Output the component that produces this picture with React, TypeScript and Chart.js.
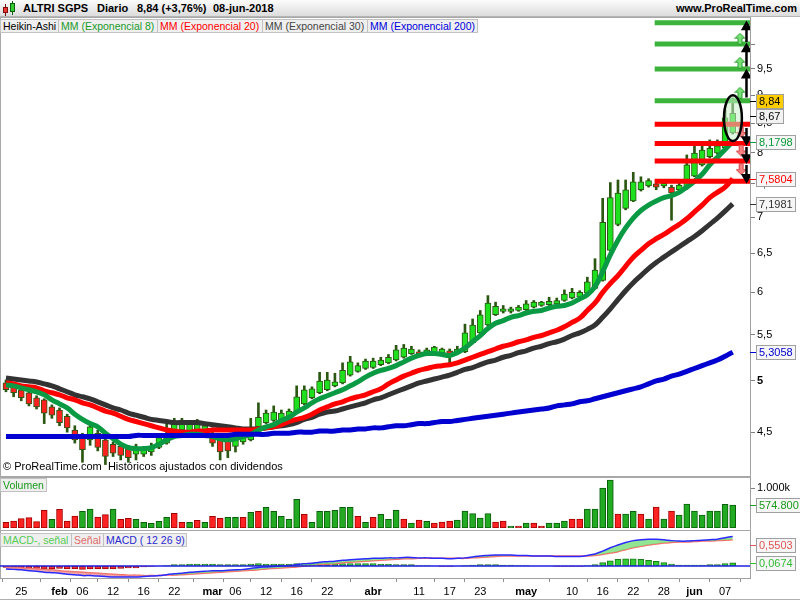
import React, { useEffect, useRef } from 'react';
import { Chart, registerables } from 'chart.js';

Chart.register(...registerables);

const FONT = '"Liberation Sans", Arial, Helvetica, sans-serif';

// ---------- Heikin-Ashi candles (23-jan-2018 .. 08-jun-2018, 96 sessions) ----------
const haOpen = [4.98,4.94,4.91,4.88,4.83,4.81,4.74,4.71,4.65,4.52,
  4.46,4.43,4.49,4.43,4.39,4.37,4.35,4.30,4.30,4.32,
  4.36,4.40,4.50,4.52,4.50,4.52,4.50,4.49,4.43,4.42,
  4.37,4.41,4.43,4.55,4.59,4.61,4.61,4.64,4.69,4.77,
  4.83,4.88,4.91,4.95,4.98,5.06,5.10,5.13,5.14,5.17,
  5.19,5.22,5.25,5.29,5.31,5.29,5.30,5.30,5.32,5.30,
  5.31,5.41,5.52,5.61,5.73,5.77,5.77,5.78,5.79,5.82,
  5.84,5.85,5.86,5.90,5.93,5.94,5.99,6.05,6.15,6.54,
  6.90,7.13,7.24,7.41,7.47,7.50,7.47,7.45,7.41,7.44,
  7.62,7.80,7.93,7.99,8.08,8.33];
const haHigh = [5.01,4.96,4.93,4.90,4.85,4.82,4.76,4.73,4.67,4.56,
  4.49,4.58,4.52,4.46,4.41,4.40,4.38,4.39,4.37,4.40,
  4.47,4.58,4.63,4.63,4.61,4.62,4.58,4.54,4.45,4.45,
  4.46,4.48,4.63,4.78,4.71,4.75,4.71,4.72,4.95,4.95,
  4.94,5.09,5.09,5.08,5.19,5.26,5.19,5.23,5.24,5.25,
  5.28,5.38,5.39,5.37,5.33,5.35,5.37,5.35,5.34,5.37,
  5.62,5.68,5.78,5.96,5.88,5.84,5.82,5.84,5.90,5.90,
  5.89,5.94,5.93,6.03,6.05,6.02,6.19,6.43,7.28,7.52,
  7.56,7.56,7.68,7.61,7.58,7.56,7.53,7.48,7.53,7.96,
  8.12,8.16,8.21,8.21,8.73,8.95];
const haLow = [4.89,4.84,4.80,4.75,4.72,4.58,4.63,4.56,4.50,4.40,
  4.23,4.38,4.33,4.21,4.28,4.25,4.23,4.25,4.28,4.29,
  4.35,4.39,4.49,4.51,4.49,4.51,4.49,4.37,4.25,4.27,
  4.32,4.39,4.42,4.54,4.58,4.60,4.60,4.63,4.68,4.76,
  4.82,4.87,4.90,4.94,4.97,5.05,5.09,5.12,5.13,5.16,
  5.18,5.21,5.24,5.28,5.28,5.28,5.29,5.29,5.19,5.29,
  5.30,5.40,5.51,5.60,5.72,5.75,5.75,5.77,5.78,5.81,
  5.83,5.84,5.85,5.89,5.92,5.93,5.98,6.04,6.14,6.53,
  6.88,7.11,7.23,7.39,7.45,7.41,7.44,6.96,7.38,7.42,
  7.61,7.78,7.91,7.97,8.06,8.31];
const haClose = [4.91,4.88,4.83,4.77,4.74,4.68,4.66,4.59,4.54,4.43,
  4.34,4.55,4.36,4.28,4.31,4.29,4.27,4.36,4.34,4.37,
  4.45,4.49,4.59,4.61,4.58,4.60,4.56,4.40,4.32,4.33,
  4.43,4.46,4.54,4.64,4.68,4.69,4.68,4.70,4.84,4.91,
  4.92,5.00,5.01,4.99,5.11,5.20,5.16,5.21,5.21,5.22,
  5.25,5.33,5.35,5.34,5.29,5.33,5.36,5.34,5.27,5.34,
  5.52,5.61,5.73,5.87,5.83,5.80,5.80,5.82,5.86,5.88,
  5.88,5.89,5.90,5.98,6.00,6.00,6.13,6.28,6.93,7.29,
  7.36,7.41,7.53,7.53,7.55,7.45,7.51,7.36,7.48,7.80,
  7.99,8.04,8.07,8.11,8.59,8.67];

// ---------- Moving averages ----------
const ema8 = [4.96,4.95,4.93,4.91,4.89,4.86,4.81,4.77,4.73,4.67,
  4.62,4.58,4.55,4.49,4.44,4.39,4.36,4.35,4.35,4.36,
  4.39,4.43,4.46,4.47,4.48,4.48,4.47,4.46,4.44,4.43,
  4.44,4.46,4.48,4.52,4.55,4.57,4.61,4.64,4.69,4.73,
  4.78,4.82,4.85,4.88,4.91,4.95,4.99,5.04,5.08,5.11,
  5.13,5.16,5.20,5.24,5.27,5.29,5.29,5.28,5.27,5.30,
  5.35,5.42,5.49,5.57,5.63,5.66,5.70,5.72,5.75,5.77,
  5.78,5.81,5.83,5.84,5.87,5.92,5.97,6.07,6.26,6.48,
  6.68,6.85,6.99,7.10,7.18,7.24,7.29,7.32,7.37,7.45,
  7.54,7.65,7.80,7.92,8.05,8.1798];
const ema20 = [4.98,4.97,4.95,4.94,4.93,4.90,4.88,4.86,4.83,4.81,
  4.78,4.76,4.73,4.70,4.68,4.65,4.62,4.60,4.58,4.56,
  4.54,4.52,4.51,4.50,4.50,4.51,4.51,4.52,4.52,4.52,
  4.52,4.52,4.52,4.53,4.54,4.55,4.57,4.60,4.62,4.64,
  4.67,4.71,4.74,4.77,4.79,4.82,4.84,4.86,4.89,4.92,
  4.97,5.01,5.05,5.08,5.11,5.13,5.15,5.16,5.17,5.19,
  5.22,5.25,5.28,5.31,5.34,5.37,5.39,5.42,5.44,5.47,
  5.49,5.52,5.55,5.59,5.64,5.69,5.78,5.87,6.00,6.11,
  6.21,6.33,6.45,6.54,6.63,6.70,6.76,6.83,6.90,6.98,
  7.08,7.18,7.29,7.37,7.45,7.5804];
const ema30 = [5.03,5.02,5.01,5.00,4.99,4.97,4.95,4.92,4.89,4.86,
  4.84,4.82,4.79,4.76,4.73,4.71,4.68,4.66,4.64,4.62,
  4.61,4.60,4.59,4.59,4.59,4.59,4.58,4.57,4.56,4.55,
  4.54,4.53,4.53,4.53,4.54,4.55,4.56,4.57,4.59,4.62,
  4.64,4.67,4.69,4.70,4.72,4.74,4.76,4.78,4.81,4.83,
  4.86,4.89,4.92,4.95,4.98,5.00,5.02,5.04,5.06,5.09,
  5.12,5.14,5.17,5.20,5.22,5.25,5.27,5.30,5.32,5.35,
  5.37,5.40,5.42,5.45,5.49,5.52,5.56,5.61,5.70,5.80,
  5.91,6.02,6.12,6.21,6.30,6.38,6.45,6.52,6.59,6.66,
  6.73,6.81,6.90,6.99,7.09,7.1981];
const ema200 = [4.46,4.46,4.46,4.46,4.46,4.46,4.46,4.46,4.46,4.46,
  4.46,4.46,4.46,4.46,4.46,4.46,4.46,4.47,4.47,4.47,
  4.47,4.47,4.47,4.47,4.47,4.47,4.47,4.47,4.47,4.47,
  4.48,4.48,4.48,4.48,4.48,4.49,4.49,4.49,4.50,4.50,
  4.50,4.51,4.51,4.51,4.52,4.52,4.53,4.53,4.54,4.54,
  4.55,4.56,4.56,4.57,4.58,4.58,4.59,4.60,4.60,4.61,
  4.62,4.63,4.64,4.65,4.66,4.67,4.68,4.69,4.70,4.71,
  4.72,4.73,4.75,4.76,4.77,4.79,4.80,4.82,4.84,4.86,
  4.88,4.90,4.92,4.94,4.97,5.00,5.02,5.05,5.07,5.10,
  5.13,5.16,5.19,5.22,5.26,5.3058];

const lastClose = 8.84;

// ---------- Volume (thousands) ----------
const volume = [143,175,233,258,158,442,217,467,175,300,
  417,475,275,333,475,217,242,217,142,117,
  167,267,367,142,142,192,142,292,242,267,
  267,267,392,417,517,417,292,217,717,342,
  142,417,417,442,517,517,292,142,267,342,
  217,442,225,125,200,167,125,150,175,200,
  425,358,250,358,150,175,50,50,125,125,
  50,125,125,175,225,225,475,475,1000,1200,
  350,350,417,350,225,525,225,425,325,600,
  425,325,425,425,590,574.8];
const volumeUp = [0,0,0,0,0,0,1,0,0,0,
  1,1,0,0,1,0,0,1,1,1,
  1,1,0,0,1,0,1,0,0,1,
  1,0,1,0,1,1,1,1,1,0,
  1,1,1,1,1,1,0,1,0,1,
  1,1,0,1,0,1,0,0,0,1,
  1,1,1,1,0,0,1,0,1,0,
  0,1,1,1,0,0,1,1,1,1,
  0,1,1,0,1,0,1,0,1,1,
  1,1,1,1,1,1];

// ---------- MACD (12 26 9) ----------
const macdLine = [-0.06,-0.07,-0.08,-0.10,-0.11,-0.13,-0.14,-0.15,-0.17,-0.18,
  -0.20,-0.20,-0.21,-0.22,-0.23,-0.23,-0.23,-0.23,-0.22,-0.21,
  -0.20,-0.18,-0.16,-0.15,-0.13,-0.12,-0.11,-0.10,-0.10,-0.09,
  -0.08,-0.07,-0.05,-0.03,-0.02,-0.01,0.00,0.01,0.03,0.05,
  0.06,0.08,0.09,0.10,0.12,0.13,0.14,0.15,0.16,0.16,
  0.17,0.17,0.18,0.18,0.17,0.17,0.16,0.16,0.15,0.16,
  0.17,0.19,0.21,0.22,0.23,0.23,0.23,0.22,0.22,0.21,
  0.21,0.21,0.20,0.20,0.20,0.20,0.22,0.25,0.31,0.38,
  0.44,0.49,0.53,0.55,0.56,0.56,0.55,0.53,0.52,0.52,
  0.53,0.54,0.55,0.56,0.59,0.6177];
const macdSignal = [-0.02,-0.03,-0.04,-0.05,-0.06,-0.07,-0.08,-0.10,-0.11,-0.12,
  -0.13,-0.14,-0.15,-0.16,-0.17,-0.18,-0.19,-0.19,-0.20,-0.20,
  -0.20,-0.19,-0.19,-0.18,-0.17,-0.16,-0.15,-0.14,-0.13,-0.12,
  -0.11,-0.10,-0.09,-0.08,-0.06,-0.05,-0.04,-0.03,-0.02,0.00,
  0.01,0.03,0.04,0.05,0.07,0.08,0.09,0.10,0.11,0.12,
  0.13,0.14,0.15,0.15,0.16,0.16,0.16,0.16,0.16,0.16,
  0.16,0.17,0.18,0.19,0.20,0.21,0.21,0.21,0.21,0.21,
  0.21,0.21,0.21,0.21,0.21,0.21,0.21,0.22,0.24,0.27,
  0.30,0.34,0.38,0.41,0.44,0.46,0.48,0.49,0.50,0.50,
  0.51,0.52,0.52,0.53,0.54,0.5503];
const macdHist = [-0.03,-0.04,-0.04,-0.05,-0.05,-0.06,-0.06,-0.05,-0.06,-0.06,
  -0.07,-0.06,-0.06,-0.06,-0.06,-0.05,-0.04,-0.04,-0.02,-0.01,
  0.00,0.01,0.03,0.03,0.04,0.04,0.04,0.04,0.03,0.03,
  0.03,0.03,0.04,0.05,0.04,0.04,0.04,0.04,0.05,0.05,
  0.05,0.05,0.05,0.05,0.05,0.05,0.05,0.05,0.05,0.04,
  0.04,0.03,0.03,0.03,0.01,0.01,0.00,-0.01,-0.01,0.00,
  0.01,0.02,0.03,0.03,0.03,0.02,0.02,0.01,0.01,0.00,
  0.00,0.00,-0.01,-0.01,-0.01,-0.01,0.01,0.03,0.07,0.11,
  0.14,0.15,0.15,0.14,0.12,0.10,0.07,0.04,0.02,0.02,
  0.02,0.02,0.03,0.03,0.05,0.0674];

// ---------- Axes / annotations ----------
const priceTicks = [4.5, 5, 5.5, 6, 6.5, 7, 7.5, 8, 8.5, 9, 9.5, 10];
const priceTickLabels = ['4,5', '5', '5,5', '6', '6,5', '7', '7,5', '8', '8,5', '9', '9,5', ''];
const dateTickBars = [2, 7, 10, 14, 18, 22, 27, 30, 34, 38, 42, 48, 54, 58, 62, 68, 74, 78, 82, 86, 90, 94];
const dateTickLabels = ['25', 'feb', '06', '12', '16', '22', 'mar', '06', '12', '16', '22', 'abr', '11', '17', '23', 'may', '10', '16', '22', '28', 'jun', '07'];
const targetUp = [8.9, 9.5, 10.0, 10.45];
const targetDown = [8.48, 8.15, 7.86, 7.54];
const targetStartBar = 84.8;
const ellipseBars = [93.86, 96.2];
const ellipsePrices = [8.19, 9.0];

const X_MIN = -0.78;
const X_MAX = 97.26;
const Y_MIN = 4.129;
const Y_MAX = 10.55;
const WICK = '#2b5713';

const lerpLog = (a: number, b: number, t: number) => a * Math.pow(b / a, t);

type Tag = { value: number; text: string; color: string; bg: string };

function tagPlugin(id: string, tags: Tag[]) {
  return {
    id,
    afterDraw(chart: any) {
      const { ctx, chartArea } = chart;
      const ys = chart.scales.y;
      const h = 14;
      ctx.save();
      ctx.font = `11px ${FONT}`;
      const items = tags.map((t) => ({ ...t, py: ys.getPixelForValue(t.value) }));
      items.sort((a, b) => a.py - b.py);
      for (let k = 0; k < 6; k++) {
        for (let i = 1; i < items.length; i++) {
          const d = items[i].py - items[i - 1].py;
          if (d < h + 1) {
            const s = (h + 1 - d) / 2;
            items[i].py += s;
            items[i - 1].py -= s;
          }
        }
      }
      for (const it of items) {
        let py = Math.min(Math.max(it.py, chartArea.top + h / 2 + 6), chartArea.bottom - h / 2);
        py = Math.round(py);
        const x0 = chartArea.right + 6;
        const w = Math.ceil(ctx.measureText(it.text).width) + 5;
        ctx.strokeStyle = it.color;
        ctx.lineWidth = 1;
        ctx.beginPath();
        ctx.moveTo(chartArea.right, py + 0.5);
        ctx.lineTo(x0, py + 0.5);
        ctx.stroke();
        ctx.fillStyle = it.bg;
        ctx.fillRect(x0, py - h / 2, w, h);
        ctx.strokeStyle = '#a0a0a0';
        ctx.strokeRect(x0 + 0.5, py - h / 2 + 0.5, w, h);
        ctx.fillStyle = it.color;
        ctx.textBaseline = 'middle';
        ctx.textAlign = 'left';
        ctx.fillText(it.text, x0 + 3, py + 1);
      }
      ctx.restore();
    },
  };
}

const ellipsePlugin = {
  id: 'ellipse',
  afterDatasetsDraw(chart: any) {
    const { ctx } = chart;
    const xs = chart.scales.x;
    const ys = chart.scales.y;
    const x1 = xs.getPixelForValue(ellipseBars[0]);
    const x2 = xs.getPixelForValue(ellipseBars[1]);
    const y1 = ys.getPixelForValue(ellipsePrices[1]);
    const y2 = ys.getPixelForValue(ellipsePrices[0]);
    ctx.save();
    ctx.beginPath();
    ctx.ellipse((x1 + x2) / 2, (y1 + y2) / 2, (x2 - x1) / 2, (y2 - y1) / 2, 0, 0, Math.PI * 2);
    ctx.fillStyle = 'rgba(200,240,200,0.55)';
    ctx.fill();
    ctx.lineWidth = 2.5;
    ctx.strokeStyle = '#000';
    ctx.stroke();
    ctx.restore();
  },
};

function makeArrow(fill: string, stroke: string, up: boolean) {
  const c = document.createElement('canvas');
  c.width = 11;
  c.height = 12;
  const g = c.getContext('2d')!;
  if (!up) {
    g.translate(0, 12);
    g.scale(1, -1);
  }
  g.beginPath();
  g.moveTo(5.5, 0.5);
  g.lineTo(10.5, 5.5);
  g.lineTo(7.5, 5.5);
  g.lineTo(7.5, 11.5);
  g.lineTo(3.5, 11.5);
  g.lineTo(3.5, 5.5);
  g.lineTo(0.5, 5.5);
  g.closePath();
  g.fillStyle = fill;
  g.fill();
  g.strokeStyle = stroke;
  g.lineWidth = 1;
  g.stroke();
  return c;
}

const fixV = (w: number) => (s: any) => {
  s.width = w;
  s.paddingTop = 0;
  s.paddingBottom = 0;
};

const baseOptions = {
  animation: false as const,
  responsive: false,
  maintainAspectRatio: false,
  events: [] as any[],
  layout: { padding: 0, autoPadding: false },
  plugins: { legend: { display: false }, tooltip: { enabled: false } },
};

const fmt = (v: number, d: number) => v.toFixed(d).replace('.', ',');

export default function App() {
  const mainRef = useRef<HTMLCanvasElement>(null);
  const volRef = useRef<HTMLCanvasElement>(null);
  const macdRef = useRef<HTMLCanvasElement>(null);

  useEffect(() => {
    Chart.defaults.font.family = FONT;
    Chart.defaults.font.size = 11;
    Chart.defaults.color = '#000';
    const charts: any[] = [];
    const idx = haOpen.map((_, i) => i);
    const pts = (arr: number[]) => arr.map((v, i) => ({ x: i, y: v }));
    const up = idx.map((i) => haClose[i] >= haOpen[i]);
    const last = idx.length - 1;

    const levelLines = (levels: number[]) =>
      levels.flatMap((l) => [{ x: targetStartBar, y: l }, { x: X_MAX, y: l }, { x: X_MAX, y: null }]);

    const blackData: any[] = [];
    const blackRad: number[] = [];
    const blackRot: number[] = [];
    const addBlack = (levels: number[], rot: number, t0: number, t1: number) => {
      for (let i = 0; i < levels.length - 1; i++) {
        blackData.push(
          { x: 96.8, y: lerpLog(levels[i], levels[i + 1], t0) },
          { x: 96.8, y: lerpLog(levels[i], levels[i + 1], t1) },
          { x: 96.8, y: null },
        );
        blackRad.push(0, 4, 0);
        blackRot.push(0, rot, 0);
      }
    };
    addBlack(targetUp, 0, 0.1, 0.8);
    addBlack(targetDown, 180, 0.2, 0.8);

    const greenArrowPts = targetUp.slice(0, -1).map((l, i) => ({ x: 95.95, y: lerpLog(l, targetUp[i + 1], 0.25) }));
    const redArrowPts = targetDown.slice(0, -1).map((l, i) => ({ x: 96.1, y: lerpLog(l, targetDown[i + 1], 0.4) }));
    const greenImg = makeArrow('#77e077', '#2f9f2f', true);
    const redImg = makeArrow('#f58080', '#d84848', false);

    const mainTags: Tag[] = [
      { value: lastClose, text: fmt(lastClose, 2), color: '#000', bg: '#ffcc00' },
      { value: haClose[last], text: fmt(haClose[last], 2), color: '#000', bg: '#f2f2f2' },
      { value: ema8[last], text: fmt(ema8[last], 4), color: '#0a9a3a', bg: '#f6f6f6' },
      { value: ema20[last], text: fmt(ema20[last], 4), color: '#ff0000', bg: '#f6f6f6' },
      { value: ema30[last], text: fmt(ema30[last], 4), color: '#333', bg: '#f6f6f6' },
      { value: ema200[last], text: fmt(ema200[last], 4), color: '#0000d0', bg: '#f6f6f6' },
    ];

    charts.push(
      new Chart(mainRef.current!, {
        type: 'bar',
        data: {
          datasets: [
            {
              type: 'line', label: 'black arrows', data: blackData, borderColor: '#000', borderWidth: 2.5,
              pointRadius: blackRad, pointStyle: 'triangle', pointRotation: blackRot,
              pointBackgroundColor: '#000', pointBorderColor: '#000', order: 0,
            },
            { type: 'line', label: 'up', data: greenArrowPts, showLine: false, pointStyle: greenImg, pointRadius: 6, order: 1 },
            { type: 'line', label: 'down', data: redArrowPts, showLine: false, pointStyle: redImg, pointRadius: 6, order: 1 },
            { type: 'line', label: 'targets up', data: levelLines(targetUp), borderColor: '#3cb43c', borderWidth: 5, pointRadius: 0, borderCapStyle: 'butt', order: 2 },
            { type: 'line', label: 'targets down', data: levelLines(targetDown), borderColor: '#ff0000', borderWidth: 5, pointRadius: 0, borderCapStyle: 'butt', order: 2 },
            { type: 'line', label: 'MM 200', data: pts(ema200), borderColor: '#0000d0', borderWidth: 5, pointRadius: 0, tension: 0.4, order: 3 },
            { type: 'line', label: 'MM 8', data: pts(ema8), borderColor: '#0a9a44', borderWidth: 5, pointRadius: 0, tension: 0.4, order: 4 },
            { type: 'line', label: 'MM 20', data: pts(ema20), borderColor: '#ff0000', borderWidth: 5, pointRadius: 0, tension: 0.4, order: 5 },
            { type: 'line', label: 'MM 30', data: pts(ema30), borderColor: '#333333', borderWidth: 5, pointRadius: 0, tension: 0.4, order: 6 },
            {
              type: 'bar', label: 'body', data: idx.map((i) => ({ x: i, y: [haOpen[i], haClose[i]] })),
              backgroundColor: up.map((u) => (u ? '#1ee01e' : '#ff2020')), borderColor: WICK, borderWidth: 1,
              borderSkipped: false, barThickness: 6, grouped: false, order: 7,
            },
            {
              type: 'bar', label: 'wick', data: idx.map((i) => ({ x: i, y: [haLow[i], haHigh[i]] })),
              backgroundColor: WICK, barThickness: 2, grouped: false, order: 8,
            },
          ] as any,
        },
        options: {
          ...baseOptions,
          scales: {
            x: { type: 'linear', min: X_MIN, max: X_MAX, offset: false, display: false },
            y: {
              type: 'logarithmic', position: 'right', min: Y_MIN, max: Y_MAX, bounds: 'data',
              afterBuildTicks: (s: any) => {
                s.ticks = priceTicks.map((v) => ({ value: v }));
                s.min = Y_MIN;
                s.max = Y_MAX;
              },
              afterFit: fixV(50),
              ticks: {
                autoSkip: false, padding: 2, color: '#000',
                font: (c: any) => ({ family: FONT, size: 11, weight: c.tick && c.tick.value === 5 ? 'bold' : 'normal' }),
                callback: (_v: any, i: number) => priceTickLabels[i] ?? '',
              },
              grid: { display: true, drawOnChartArea: false, drawTicks: true, tickLength: 5, color: '#808080' },
              border: { display: true, color: '#a0a0a0' },
            },
          },
        } as any,
        plugins: [ellipsePlugin, tagPlugin('mainTags', mainTags)],
      }),
    );

    charts.push(
      new Chart(volRef.current!, {
        type: 'bar',
        data: {
          datasets: [
            {
              label: 'Volumen', data: volume.map((v, i) => ({ x: i, y: v })),
              backgroundColor: volumeUp.map((u) => (u ? '#22aa22' : '#ff2222')),
              borderColor: volumeUp.map((u) => (u ? '#0b5e0b' : '#a00000')),
              borderWidth: 1, borderSkipped: false, barThickness: 6,
            },
          ] as any,
        },
        options: {
          ...baseOptions,
          scales: {
            x: { type: 'linear', min: X_MIN, max: X_MAX, offset: false, display: false },
            y: {
              type: 'linear', position: 'right', min: 0, max: 1275, bounds: 'data',
              afterBuildTicks: (s: any) => { s.ticks = [{ value: 1000 }]; s.min = 0; s.max = 1275; },
              afterFit: fixV(50),
              ticks: { padding: 2, color: '#000', callback: () => '1.000k' },
              grid: { display: true, drawOnChartArea: false, drawTicks: true, tickLength: 5, color: '#808080' },
              border: { display: true, color: '#a0a0a0' },
            },
          },
        } as any,
        plugins: [tagPlugin('volTags', [{ value: volume[last], text: '574.800', color: '#1a9a1a', bg: '#f6f6f6' }])],
      }),
    );

    charts.push(
      new Chart(macdRef.current!, {
        type: 'bar',
        data: {
          datasets: [
            { type: 'line', label: 'zero', data: [{ x: X_MIN, y: 0 }, { x: X_MAX, y: 0 }], borderColor: '#2020e0', borderWidth: 1.5, pointRadius: 0, order: 0 },
            {
              type: 'line', label: 'MACD', data: pts(macdLine), borderColor: '#2a2aff', borderWidth: 1.5, pointRadius: 0, tension: 0.3, order: 1,
              fill: { target: 2, above: 'rgba(110,220,110,0.75)', below: 'rgba(240,130,130,0.7)' },
            },
            { type: 'line', label: 'Señal', data: pts(macdSignal), borderColor: '#ff6a6a', borderWidth: 1.5, pointRadius: 0, tension: 0.3, order: 2 },
            {
              type: 'bar', label: 'MACD-, señal', data: pts(macdHist),
              backgroundColor: macdHist.map((v) => (v >= 0 ? '#33cc33' : '#ee3333')),
              borderColor: macdHist.map((v) => (v >= 0 ? '#1a7a1a' : '#a00000')),
              borderWidth: 1, borderSkipped: false, barThickness: 6, order: 3,
            },
          ] as any,
        },
        options: {
          ...baseOptions,
          scales: {
            x: {
              type: 'linear', position: 'bottom', min: X_MIN, max: X_MAX, offset: false, bounds: 'data',
              afterBuildTicks: (s: any) => { s.ticks = dateTickBars.map((v) => ({ value: v })); s.min = X_MIN; s.max = X_MAX; },
              afterFit: (s: any) => { s.height = 22; s.paddingLeft = 0; s.paddingRight = 0; },
              ticks: {
                autoSkip: false, maxRotation: 0, minRotation: 0, padding: 3, color: '#000',
                font: (c: any) => ({ family: FONT, size: 11, weight: /[a-z]/.test(dateTickLabels[c.index] || '') ? 'bold' : 'normal' }),
                callback: (_v: any, i: number) => dateTickLabels[i] ?? '',
              },
              grid: { display: true, drawOnChartArea: false, drawTicks: true, tickLength: 4, color: '#909090' },
              border: { display: true, color: '#a0a0a0' },
            },
            y: {
              type: 'linear', position: 'right', min: -0.25, max: 0.71, bounds: 'data',
              afterFit: fixV(50),
              ticks: { display: false },
              grid: { display: false },
              border: { display: true, color: '#a0a0a0' },
            },
          },
        } as any,
        plugins: [
          tagPlugin('macdTags', [
            { value: macdSignal[last], text: fmt(macdSignal[last], 4), color: '#e05555', bg: '#f6f6f6' },
            { value: macdHist[last], text: fmt(macdHist[last], 4), color: '#33bb33', bg: '#f6f6f6' },
          ]),
        ],
      }),
    );

    return () => charts.forEach((c) => c.destroy());
  }, []);

  const abs = (s: React.CSSProperties): React.CSSProperties => ({ position: 'absolute', ...s });
  const box = (left: number, top: number, width: number, color: string): React.CSSProperties =>
    abs({
      left, top, width, height: 14, lineHeight: '13px', boxSizing: 'border-box', background: '#efefef',
      border: '1px solid #c2c2c2', color, fontSize: 10.5, paddingLeft: 2, whiteSpace: 'nowrap', overflow: 'hidden',
    });
  const frame = (top: number, height: number): React.CSSProperties =>
    abs({ left: 0, top, width: 751, height, boxSizing: 'border-box', border: '1px solid #a8a8a8' });
  const head: React.CSSProperties = { fontSize: 11, fontWeight: 'bold', whiteSpace: 'nowrap', top: 2 };

  return (
    <div style={{ position: 'fixed', left: 0, top: 0, width: 800, height: 600, background: '#fff', fontFamily: FONT, overflow: 'hidden' }}>
      <div style={frame(17, 460)} />
      <div style={frame(477, 54)} />
      <div style={frame(530, 49)} />
      <div style={abs({ left: 0, top: 599, width: 800, height: 1, background: '#b0b0b0' })} />

      <canvas ref={mainRef} width={800} height={456} style={abs({ left: 0, top: 18, display: 'block' })} />
      <canvas ref={volRef} width={800} height={51} style={abs({ left: 0, top: 477, display: 'block' })} />
      <canvas ref={macdRef} width={800} height={68} style={abs({ left: 0, top: 532, display: 'block' })} />

      {/* header */}
      <div style={abs({ left: 0, top: 0, width: 800, height: 17, boxSizing: 'border-box', background: 'linear-gradient(#fcfcfc, #dcdcdc)', borderBottom: '1px solid #b4b4b4' })}>
        <div style={abs({ left: 5, top: 4, width: 1, height: 12, background: '#7a1010' })} />
        <div style={abs({ left: 3, top: 7, width: 5, height: 6, background: '#ee3333', border: '1px solid #7a1010', boxSizing: 'border-box' })} />
        <div style={abs({ left: 12, top: 1, width: 1, height: 14, background: '#0b5e0b' })} />
        <div style={abs({ left: 10, top: 3, width: 5, height: 9, background: '#33cc33', border: '1px solid #0b5e0b', boxSizing: 'border-box' })} />
        <span style={abs({ ...head, left: 23 })}>ALTRI SGPS</span>
        <span style={abs({ ...head, left: 97 })}>Diario</span>
        <span style={abs({ ...head, left: 137 })}>8,84 (+3,76%)</span>
        <span style={abs({ ...head, left: 213 })}>08-jun-2018</span>
        <span style={abs({ ...head, right: 3 })}>www.ProRealTime.com</span>
      </div>

      {/* legend */}
      <div style={box(0, 19, 59, '#000')}>Heikin-Ashi</div>
      <div style={box(58, 19, 100, '#1a9a2a')}>MM (Exponencial 8)</div>
      <div style={box(157, 19, 106, '#ff0000')}>MM (Exponencial 20)</div>
      <div style={box(262, 19, 106, '#444444')}>MM (Exponencial 30)</div>
      <div style={box(367, 19, 111, '#0000dd')}>MM (Exponencial 200)</div>

      <div style={abs({ left: 3, top: 460, fontSize: 11, whiteSpace: 'pre', color: '#000' })}>© ProRealTime.com  Históricos ajustados con dividendos</div>

      <div style={box(0, 478, 47, '#1a9a1a')}>Volumen</div>

      <div style={box(0, 533, 72, '#55cc55')}>MACD-, señal</div>
      <div style={box(71, 533, 33, '#e06a6a')}>Señal</div>
      <div style={box(103, 533, 84, '#2a2ad0')}>MACD ( 12 26 9)</div>
    </div>
  );
}
